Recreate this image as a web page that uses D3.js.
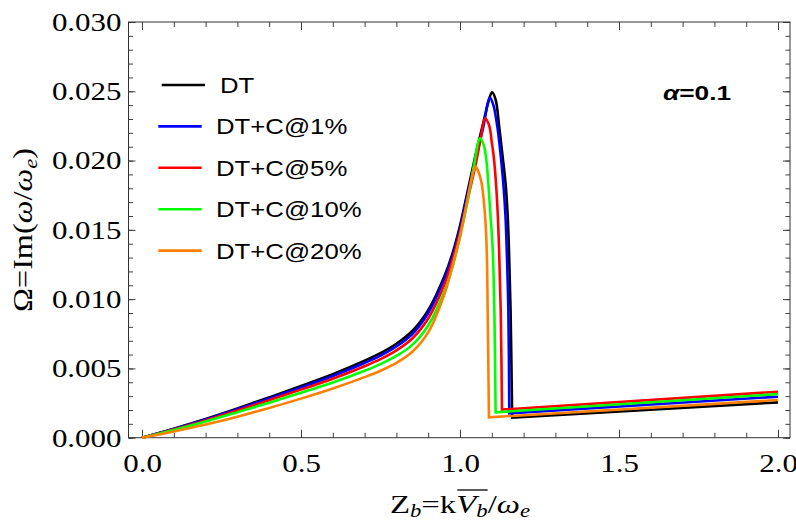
<!DOCTYPE html>
<html>
<head>
<meta charset="utf-8">
<script src="https://cdn.jsdelivr.net/npm/d3@7"></script>
<style>
  body { margin: 0; background: #fff; }
  svg { display: block; }
</style>
</head>
<body>
<svg id="chart"></svg>
<script>
// values
const seriesNames = ["DT", "DT+C@1%", "DT+C@5%", "DT+C@10%", "DT+C@20%"];
const seriesColors = ["#000000", "#0000ff", "#ff0000", "#00ff00", "#ff8000"];

const zDT = [0, 0.1, 0.2, 0.3, 0.4, 0.5, 0.6, 0.7, 0.75, 0.8, 0.85, 0.9, 0.95, 0.975, 1.0, 1.025, 1.05, 1.075, 1.09, 1.1006, 1.112, 1.123, 1.133, 1.143, 1.15, 1.154, 1.159, 1.164, 2.0];
const omegaDT = [0, 0.00065, 0.00135, 0.00211, 0.00291, 0.00373, 0.00458, 0.00555, 0.0061, 0.00678, 0.0077, 0.0092, 0.0116, 0.0132, 0.0153, 0.0179, 0.0205, 0.0229, 0.0243, 0.02493, 0.0244, 0.0225, 0.0205, 0.0184, 0.0160, 0.0135, 0.0092, 0.00144, 0.00255];

const zC1 = [0, 0.1, 0.2, 0.3, 0.4, 0.5, 0.6, 0.7, 0.75, 0.8, 0.85, 0.9, 0.95, 0.975, 1.0, 1.025, 1.05, 1.075, 1.086, 1.094, 1.105, 1.117, 1.127, 1.136, 1.143, 1.147, 1.152, 1.155, 2.0];
const omegaC1 = [0, 0.00063, 0.00131, 0.00205, 0.00283, 0.00362, 0.00445, 0.00539, 0.00592, 0.00658, 0.00748, 0.0090, 0.0114, 0.0130, 0.0151, 0.0177, 0.0202, 0.0226, 0.0240, 0.02454, 0.0240, 0.0225, 0.0206, 0.0184, 0.0160, 0.0135, 0.0092, 0.00176, 0.00296];

const zC5 = [0, 0.1, 0.2, 0.3, 0.4, 0.5, 0.6, 0.7, 0.75, 0.8, 0.85, 0.9, 0.95, 0.975, 1.0, 1.025, 1.05, 1.065, 1.079, 1.092, 1.1, 1.106, 1.113, 1.119, 1.123, 1.128, 1.132, 2.0];
const omegaC5 = [0, 0.0006, 0.00125, 0.00196, 0.00271, 0.00347, 0.00426, 0.00516, 0.00567, 0.0063, 0.00716, 0.0086, 0.0110, 0.0127, 0.0148, 0.0173, 0.0198, 0.0216, 0.02305, 0.0225, 0.0213, 0.0203, 0.0184, 0.0160, 0.0135, 0.0092, 0.00203, 0.00332];

const zC10 = [0, 0.1, 0.2, 0.3, 0.4, 0.5, 0.6, 0.7, 0.75, 0.8, 0.85, 0.9, 0.95, 0.975, 1.0, 1.025, 1.045, 1.063, 1.075, 1.083, 1.089, 1.096, 1.103, 1.108, 1.112, 2.0];
const omegaC10 = [0, 0.00056, 0.00117, 0.00184, 0.00253, 0.00325, 0.00398, 0.00483, 0.00531, 0.0059, 0.0067, 0.0081, 0.0105, 0.0122, 0.0145, 0.0172, 0.0198, 0.0216, 0.0211, 0.0200, 0.0184, 0.0160, 0.0135, 0.0092, 0.00183, 0.00315];

const zC20 = [0, 0.1, 0.2, 0.3, 0.4, 0.5, 0.6, 0.7, 0.75, 0.8, 0.85, 0.9, 0.95, 0.975, 1.0, 1.015, 1.03, 1.04, 1.049, 1.058, 1.068, 1.079, 1.084, 1.087, 1.091, 2.0];
const omegaC20 = [0, 0.00045, 0.00095, 0.00152, 0.00215, 0.00282, 0.00355, 0.00437, 0.00483, 0.0054, 0.0062, 0.0076, 0.0103, 0.0123, 0.0145, 0.0162, 0.0180, 0.0190, 0.01956, 0.0192, 0.01836, 0.01595, 0.01354, 0.0092, 0.00147, 0.00272];

const xMajorTicks = [0, 0.5, 1.0, 1.5, 2.0];
const xTickLabels = ["0.0", "0.5", "1.0", "1.5", "2.0"];
const yMajorTicks = [0, 0.005, 0.010, 0.015, 0.020, 0.025, 0.030];
const yTickLabels = ["0.000", "0.005", "0.010", "0.015", "0.020", "0.025", "0.030"];

const series = [
  { name: seriesNames[0], color: seriesColors[0], z: zDT, omega: omegaDT },
  { name: seriesNames[1], color: seriesColors[1], z: zC1, omega: omegaC1 },
  { name: seriesNames[2], color: seriesColors[2], z: zC5, omega: omegaC5 },
  { name: seriesNames[3], color: seriesColors[3], z: zC10, omega: omegaC10 },
  { name: seriesNames[4], color: seriesColors[4], z: zC20, omega: omegaC20 },
];

const width = 796, height = 522;
const margin = { top: 22, right: 6, bottom: 84.3, left: 128.5 };
const stretchX = 1.19; // the source image is wider than its fonts

const svg = d3.select("#chart")
  .attr("width", width)
  .attr("height", height);

const x = d3.scaleLinear()
  .domain([-0.04245, 2.0377])
  .range([margin.left, width - margin.right]);

const y = d3.scaleLinear()
  .domain([0, 0.030])
  .range([height - margin.bottom, margin.top]);

function stretch(sel, f) {
  sel.each(function () {
    const w = this.getComputedTextLength();
    d3.select(this).attr("textLength", w * f).attr("lengthAdjust", "spacingAndGlyphs");
  });
}

const tickColor = "#404040";

function styleAxis(g) {
  g.select(".domain").remove();
  g.selectAll("line").attr("stroke", tickColor);
}

// minor ticks, all four sides
svg.append("g")
  .attr("transform", `translate(0,${y.range()[0]})`)
  .call(d3.axisBottom(x).ticks(20).tickSize(-5).tickFormat(""))
  .call(styleAxis);
svg.append("g")
  .attr("transform", `translate(0,${y.range()[1]})`)
  .call(d3.axisTop(x).ticks(20).tickSize(-5).tickFormat(""))
  .call(styleAxis);
svg.append("g")
  .attr("transform", `translate(${x.range()[0]},0)`)
  .call(d3.axisLeft(y).ticks(30).tickSize(-4.5).tickFormat(""))
  .call(styleAxis);
svg.append("g")
  .attr("transform", `translate(${x.range()[1]},0)`)
  .call(d3.axisRight(y).ticks(30).tickSize(-4.5).tickFormat(""))
  .call(styleAxis);

// major ticks
const xAxis = svg.append("g")
  .attr("transform", `translate(0,${y.range()[0]})`)
  .call(d3.axisBottom(x).tickValues(xMajorTicks).tickFormat((d, i) => xTickLabels[i]).tickSize(-8).tickPadding(16))
  .call(styleAxis)
  .attr("font-family", "'Liberation Serif', serif")
  .attr("font-size", 26);
xAxis.selectAll("text").attr("fill", "#000");

svg.append("g")
  .attr("transform", `translate(0,${y.range()[1]})`)
  .call(d3.axisTop(x).tickValues(xMajorTicks).tickSize(-8).tickFormat(""))
  .call(styleAxis);

const yAxis = svg.append("g")
  .attr("transform", `translate(${x.range()[0]},0)`)
  .call(d3.axisLeft(y).tickValues(yMajorTicks).tickFormat((d, i) => yTickLabels[i]).tickSize(-7).tickPadding(7))
  .call(styleAxis)
  .attr("font-family", "'Liberation Serif', serif")
  .attr("font-size", 26);
yAxis.selectAll("text").attr("fill", "#000");

svg.append("g")
  .attr("transform", `translate(${x.range()[1]},0)`)
  .call(d3.axisRight(y).tickValues(yMajorTicks).tickSize(-7).tickFormat(""))
  .call(styleAxis);

stretch(xAxis.selectAll("text"), stretchX);
stretch(yAxis.selectAll("text"), stretchX);

// frame
svg.append("rect")
  .attr("x", x.range()[0])
  .attr("y", y.range()[1])
  .attr("width", x.range()[1] - x.range()[0])
  .attr("height", y.range()[0] - y.range()[1])
  .attr("fill", "none")
  .attr("stroke", "#333")
  .attr("stroke-width", 1);

// curves: smooth rise and peak, then a straight tail after the drop
const smooth = d3.line()
  .x(d => x(d[0]))
  .y(d => y(d[1]))
  .curve(d3.curveCatmullRom.alpha(0.5));

svg.append("g")
  .selectAll("path")
  .data(series)
  .join("path")
  .attr("fill", "none")
  .attr("stroke", d => d.color)
  .attr("stroke-width", 2.6)
  .attr("d", d => {
    const pts = d.z.map((z, i) => [z, d.omega[i]]);
    const last = pts[pts.length - 1];
    return smooth(pts.slice(0, -1)) + `L${x(last[0])},${y(last[1])}`;
  });

// legend
const legend = svg.append("g");
const legendRows = legend.selectAll("g")
  .data(series)
  .join("g")
  .attr("transform", (d, i) => `translate(0,${85 + i * 41.4})`);

legendRows.append("line")
  .attr("x1", (d, i) => i === 0 ? 161.7 : 158.3)
  .attr("x2", (d, i) => i === 0 ? 205 : 201.7)
  .attr("stroke", d => d.color)
  .attr("stroke-width", 2.6);

const legendText = legendRows.append("text")
  .attr("x", (d, i) => i === 0 ? 220 : 216)
  .attr("dy", "0.36em")
  .attr("font-family", "'Liberation Sans', Arial, sans-serif")
  .attr("font-size", 22)
  .attr("fill", "#000")
  .text(d => d.name);
stretch(legendText, 1.17);

// alpha annotation
const alpha = svg.append("text")
  .attr("x", 663)
  .attr("y", 100)
  .attr("font-family", "'Liberation Sans', Arial, sans-serif")
  .attr("font-size", 21)
  .attr("font-weight", "bold")
  .attr("fill", "#000");
alpha.append("tspan").attr("font-style", "italic").text("α");
alpha.append("tspan").text("=0.1");
stretch(alpha, 1.25);

// x label
const xLabel = svg.append("text")
  .attr("x", 460)
  .attr("y", 513)
  .attr("text-anchor", "middle")
  .attr("font-family", "'Liberation Serif', serif")
  .attr("font-size", 26)
  .attr("fill", "#000");
xLabel.append("tspan").text("Z");
xLabel.append("tspan").attr("font-style", "italic").attr("font-size", 18).attr("dy", 4).text("b");
xLabel.append("tspan").attr("dy", -4).text("=k");
const vSpan = xLabel.append("tspan").attr("font-style", "italic").text("V");
const vSub = xLabel.append("tspan").attr("font-style", "italic").attr("font-size", 18).attr("dy", 4).text("b");
xLabel.append("tspan").attr("dy", -4).text("/");
xLabel.append("tspan").attr("font-style", "italic").text("ω");
xLabel.append("tspan").attr("font-style", "italic").attr("font-size", 18).attr("dy", 4).text("e");
xLabel.attr("textLength", 140).attr("lengthAdjust", "spacingAndGlyphs");

const vb = vSpan.node().getBBox(), sb = vSub.node().getBBox();
svg.append("line")
  .attr("x1", vb.x + 1)
  .attr("x2", sb.x + sb.width)
  .attr("y1", 490)
  .attr("y2", 490)
  .attr("stroke", "#000")
  .attr("stroke-width", 1.3);

// y label
const yLabel = svg.append("text")
  .attr("transform", "translate(32,230) rotate(-90)")
  .attr("text-anchor", "middle")
  .attr("font-family", "'Liberation Serif', serif")
  .attr("font-size", 27)
  .attr("fill", "#000");
yLabel.append("tspan").text("Ω=Im(");
yLabel.append("tspan").attr("font-style", "italic").text("ω");
yLabel.append("tspan").text("/");
yLabel.append("tspan").attr("font-style", "italic").text("ω");
yLabel.append("tspan").attr("font-style", "italic").attr("font-size", 19).attr("dy", 5).text("e");
yLabel.append("tspan").attr("dy", -5).text(")");
yLabel.attr("textLength", 164).attr("lengthAdjust", "spacingAndGlyphs");
</script>
</body>
</html>
